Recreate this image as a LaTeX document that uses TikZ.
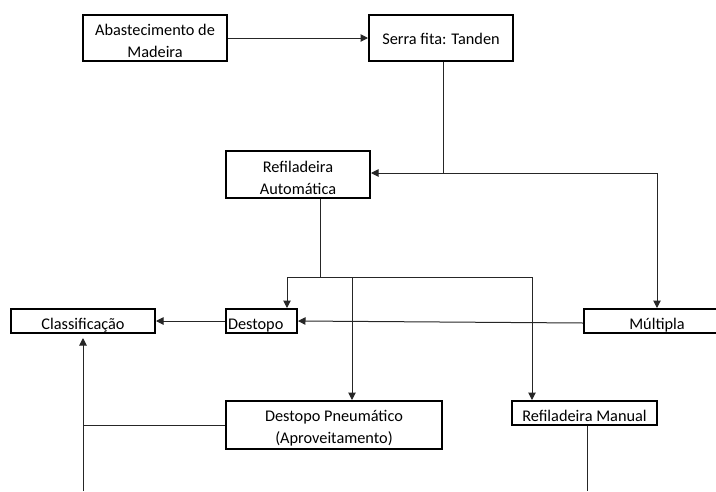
\documentclass[tikz,border=0pt]{standalone}
\usepackage{fontspec}
\setmainfont{Carlito}
\usetikzlibrary{arrows.meta,calc}
\newcommand{\topstrut}{\rule{0pt}{18pt}}
\begin{document}
\begin{tikzpicture}[x=1pt,y=-1pt,
  box/.style={draw=black,line width=2pt,inner sep=0pt,align=center,font=\fontsize{16.3}{22}\selectfont},
  one/.style={box,minimum height=24pt,text height=20pt,text depth=4pt},
  conn/.style={draw=black!85,line width=1pt},
  arr/.style={conn,-{Triangle[length=7.5pt,width=7.5pt]}}]
\useasboundingbox (0,0) rectangle (716,491);
\node[box,minimum width=144pt,minimum height=46pt] (abast) at (155,38) {\topstrut Abastecimento de\\Madeira};
\node[box,minimum width=144pt,minimum height=46pt,text height=14pt,text depth=2pt] (serra) at (441,38) {Serra fita: Tanden};
\node[box,minimum width=144pt,minimum height=47pt] (refA) at (298,174.5) {\topstrut Refiladeira\\Automática};
\node[one,minimum width=146pt] (mult) at (657,321) {Múltipla};
\node[one,minimum width=71pt,text width=67pt,align=left] (dest) at (261.5,321) {Destopo};
\node[one,minimum width=144pt] (class) at (83,321) {Classificação};
\node[box,minimum width=216pt,minimum height=48pt] (destP) at (334,425) {\topstrut Destopo Pneumático\\(Aproveitamento)};
\node[one,minimum width=145pt] (refM) at (584.5,413) {Refiladeira Manual};
\coordinate (j1) at (443,173);
\coordinate (j1r) at (657,173);
\coordinate (j2) at (320,277);
\coordinate (j2l) at (287,277);
\coordinate (j2m) at (352,277);
\coordinate (j2r) at (532,277);
\coordinate (cl) at (83,425);
\coordinate (cb) at (83,491);
\coordinate (mb) at (587,491);
\draw[arr] (abast.east) -- (serra.west);
\draw[conn] (serra.south -| j1) -- (j1);
\draw[arr] (j1) -- (refA.east |- j1);
\draw[arr] (j1) -- (j1r) -- (mult.north -| j1r);
\draw[conn] (refA.south -| j2) -- (j2);
\draw[conn] (j2l) -- (j2r);
\draw[arr] (j2l) -- (dest.north -| j2l);
\draw[arr] (j2m) -- (destP.north -| j2m);
\draw[arr] (j2r) -- (refM.north -| j2r);
\draw[arr] (dest.west) -- (class.east);
\draw[arr] ($(mult.west)+(0,2)$) -- (dest.east);
\draw[conn] (destP.west) -- (cl);
\draw[arr,shorten >=4pt] (cb) -- (class.south -| cb);
\draw[conn] (refM.south -| mb) -- (mb);
\end{tikzpicture}
\end{document}
